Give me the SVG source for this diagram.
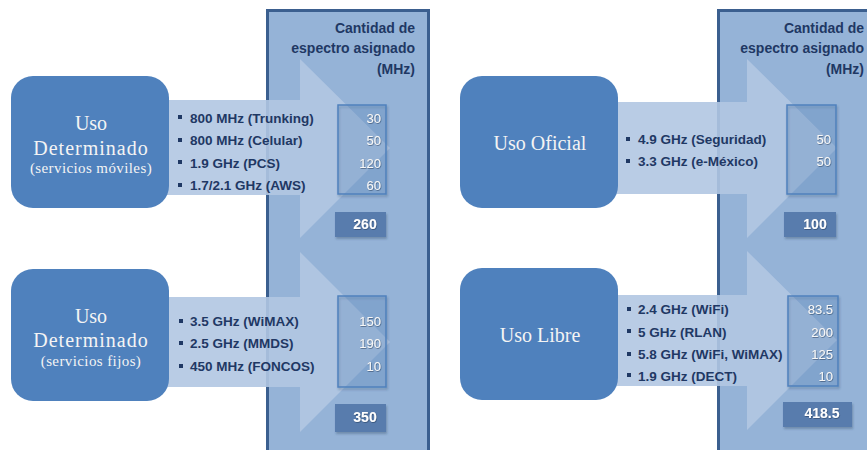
<svg xmlns="http://www.w3.org/2000/svg" width="867" height="450" viewBox="0 0 867 450">
<defs>
<filter id="sh" x="-20%" y="-20%" width="140%" height="140%">
<feDropShadow dx="1" dy="2" stdDeviation="1.2" flood-color="#2a4060" flood-opacity="0.35"/>
</filter>
<filter id="tsh" x="-20%" y="-20%" width="140%" height="140%">
<feDropShadow dx="0.6" dy="0.8" stdDeviation="0.5" flood-color="#1f3050" flood-opacity="0.6"/>
</filter>
</defs>
<style>
.panel{fill:#95b3d7;stroke:#3b5f8f;stroke-width:3}
.arrow{fill:#b1c7e2;fill-opacity:0.9}
.node{fill:#4f81bd}
.ntxt{font-family:"Liberation Serif","Times New Roman",serif;fill:#f4f4f4;text-anchor:middle;font-size:20px}
.nsub{font-size:15px;letter-spacing:0.4px}
.head{font-family:"Liberation Sans",Arial,sans-serif;font-weight:bold;font-size:14px;fill:#1f3864;text-anchor:end}
.bul{font-family:"Liberation Sans",Arial,sans-serif;font-weight:bold;font-size:13.5px;fill:#1f3864}
.dot{fill:#1f3864}
.vbox{fill:#4f81bd;fill-opacity:0.2;stroke:#4f81bd;stroke-width:1.5}
.val{font-family:"Liberation Sans",Arial,sans-serif;font-size:13px;fill:#f8f8f8;text-anchor:end}
.tbox{fill:#587bad}
.tot{font-family:"Liberation Sans",Arial,sans-serif;font-weight:bold;font-size:14px;fill:#ffffff;text-anchor:middle}
</style>
<rect width="867" height="450" fill="#ffffff"/>

<g id="panel-left">
<rect class="panel" x="267.5" y="10.5" width="161" height="450"/>
<text class="head" x="415" y="33">Cantidad de</text>
<text class="head" x="415" y="53">espectro asignado</text>
<text class="head" x="415" y="74">(MHz)</text>
</g>
<g id="panel-right">
<rect class="panel" x="718.5" y="10.5" width="161" height="450"/>
<text class="head" x="864" y="33">Cantidad de</text>
<text class="head" x="864" y="53">espectro asignado</text>
<text class="head" x="864" y="74">(MHz)</text>
</g>

<g id="connectors">
<polygon class="arrow" points="160,100 300,100 300,59 390,148 300,238 300,195 160,195"/>
<polygon class="arrow" points="160,297 300,297 300,252 390,342 300,432 300,387 160,387"/>
<polygon class="arrow" points="610,102 747,102 747,59 837,148 747,238 747,194 610,194"/>
<polygon class="arrow" points="610,295 747,295 747,251 837,340 747,430 747,386 610,386"/>
</g>

<g id="node-moviles">
<rect class="node" x="11" y="76" width="158" height="132" rx="22"/>
<text class="ntxt" x="91" y="130">Uso</text>
<text class="ntxt" x="91" y="155" letter-spacing="1">Determinado</text>
<text class="ntxt nsub" x="91" y="173">(servicios móviles)</text>
</g>
<g id="node-fijos">
<rect class="node" x="11" y="269" width="158" height="132" rx="22"/>
<text class="ntxt" x="91" y="323">Uso</text>
<text class="ntxt" x="91" y="347" letter-spacing="1">Determinado</text>
<text class="ntxt nsub" x="91" y="366">(servicios fijos)</text>
</g>
<g id="node-oficial">
<rect class="node" x="460" y="76" width="158" height="132" rx="22"/>
<text class="ntxt" x="540" y="150">Uso Oficial</text>
</g>
<g id="node-libre">
<rect class="node" x="460" y="268" width="158" height="132" rx="22"/>
<text class="ntxt" x="540" y="342">Uso Libre</text>
</g>

<g id="list-moviles">
<rect class="dot" x="178" y="115" width="4" height="4"/>
<rect class="dot" x="178" y="138" width="4" height="4"/>
<rect class="dot" x="178" y="160" width="4" height="4"/>
<rect class="dot" x="178" y="183" width="4" height="4"/>
<text class="bul" x="190" y="122.5">800 MHz (Trunking)</text>
<text class="bul" x="190" y="145">800 MHz (Celular)</text>
<text class="bul" x="190" y="167.5">1.9 GHz (PCS)</text>
<text class="bul" x="190" y="190">1.7/2.1 GHz (AWS)</text>
</g>
<g id="values-moviles">
<rect class="vbox" x="338" y="105" width="48" height="89" filter="url(#sh)"/>
<g filter="url(#tsh)">
<text class="val" x="381" y="122.5">30</text>
<text class="val" x="381" y="145">50</text>
<text class="val" x="381" y="167.5">120</text>
<text class="val" x="381" y="190">60</text>
</g>
<rect class="tbox" x="335" y="212" width="51" height="25" filter="url(#sh)"/>
<text class="tot" x="365" y="228.5" filter="url(#tsh)">260</text>
</g>

<g id="list-fijos">
<rect class="dot" x="179" y="319" width="4" height="4"/>
<rect class="dot" x="179" y="341" width="4" height="4"/>
<rect class="dot" x="179" y="364" width="4" height="4"/>
<text class="bul" x="190" y="326">3.5 GHz (WiMAX)</text>
<text class="bul" x="190" y="348">2.5 GHz (MMDS)</text>
<text class="bul" x="190" y="370.5">450 MHz (FONCOS)</text>
</g>
<g id="values-fijos">
<rect class="vbox" x="338" y="296" width="48" height="91" filter="url(#sh)"/>
<g filter="url(#tsh)">
<text class="val" x="381" y="326">150</text>
<text class="val" x="381" y="348">190</text>
<text class="val" x="381" y="370.5">10</text>
</g>
<rect class="tbox" x="335" y="404" width="51" height="28" filter="url(#sh)"/>
<text class="tot" x="365" y="421.5" filter="url(#tsh)">350</text>
</g>

<g id="list-oficial">
<rect class="dot" x="626" y="137" width="4" height="4"/>
<rect class="dot" x="626" y="159" width="4" height="4"/>
<text class="bul" x="638" y="144">4.9 GHz (Seguridad)</text>
<text class="bul" x="638" y="166">3.3 GHz (e-México)</text>
</g>
<g id="values-oficial">
<rect class="vbox" x="787" y="105" width="49" height="89" filter="url(#sh)"/>
<g filter="url(#tsh)">
<text class="val" x="831" y="144">50</text>
<text class="val" x="831" y="166">50</text>
</g>
<rect class="tbox" x="784" y="212" width="52" height="25" filter="url(#sh)"/>
<text class="tot" x="815" y="228.5" filter="url(#tsh)">100</text>
</g>

<g id="list-libre">
<rect class="dot" x="627" y="307" width="4" height="4"/>
<rect class="dot" x="627" y="329" width="4" height="4"/>
<rect class="dot" x="627" y="352" width="4" height="4"/>
<rect class="dot" x="627" y="373" width="4" height="4"/>
<text class="bul" x="638" y="314">2.4 GHz (WiFi)</text>
<text class="bul" x="638" y="336.5">5 GHz (RLAN)</text>
<text class="bul" x="638" y="359">5.8 GHz (WiFi, WiMAX)</text>
<text class="bul" x="638" y="380.5">1.9 GHz (DECT)</text>
</g>
<g id="values-libre">
<rect class="vbox" x="788" y="296" width="50" height="90" filter="url(#sh)"/>
<g filter="url(#tsh)">
<text class="val" x="833" y="314">83.5</text>
<text class="val" x="833" y="336.5">200</text>
<text class="val" x="833" y="359">125</text>
<text class="val" x="833" y="380.5">10</text>
</g>
<rect class="tbox" x="783" y="402" width="69" height="25" filter="url(#sh)"/>
<text class="tot" x="822" y="418" filter="url(#tsh)">418.5</text>
</g>
</svg>
